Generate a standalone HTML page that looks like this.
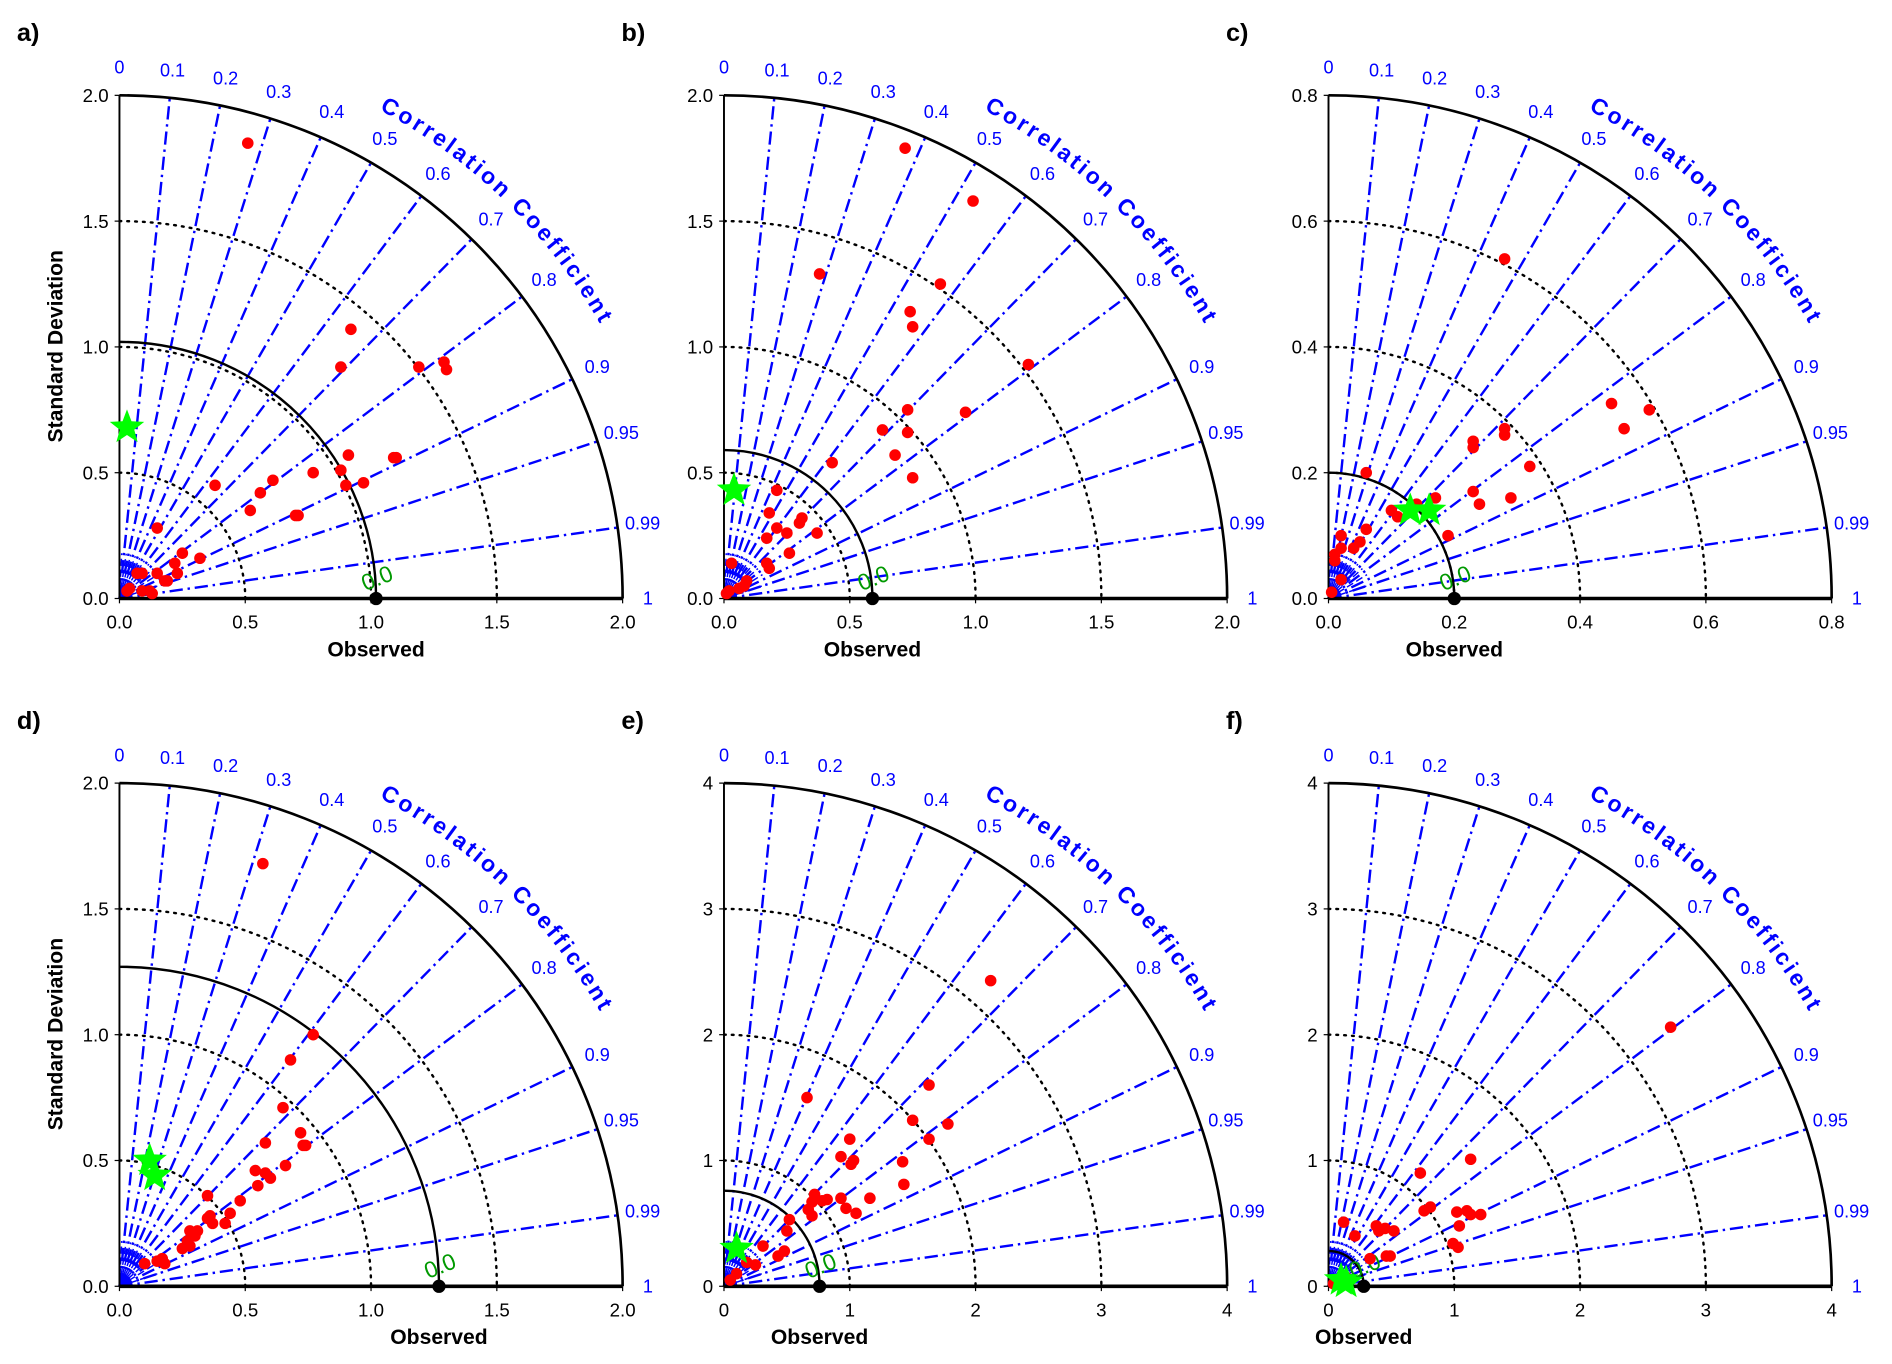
<!DOCTYPE html>
<html><head><meta charset="utf-8">
<style>
html,body{margin:0;padding:0;background:#fff;}
svg{display:block;font-family:"Liberation Sans","DejaVu Sans",sans-serif;}
</style></head>
<body>
<svg id="fig" width="1892" height="1364" viewBox="0 0 1568 1130.4" xmlns="http://www.w3.org/2000/svg"></svg>
<script>
// ---- data ----
const panelLabels = ["a)","b)","c)","d)","e)","f)"];
const panelMax = [2, 2, 0.8, 2, 4, 4];
const panelRef = [1.02, 0.59, 0.2, 1.27, 0.76, 0.28];
const xTicksA = ["0.0","0.5","1.0","1.5","2.0"];
const xTicksC = ["0.0","0.2","0.4","0.6","0.8"];
const xTicksE = ["0","1","2","3","4"];
const corrTicks = [0,0.1,0.2,0.3,0.4,0.5,0.6,0.7,0.8,0.9,0.95,0.99,1];
const starsA = [[0.03,0.68]];
const starsB = [[0.04,0.43]];
const starsC = [[0.13,0.14],[0.16,0.14]];
const starsD = [[0.12,0.50],[0.14,0.44]];
const starsE = [[0.10,0.30]];
const starsF = [[0.10,0.05],[0.14,0.03]];
const ptsA = [[0.51,1.81],[0.92,1.07],[0.88,0.92],[1.19,0.92],[1.29,0.94],[1.30,0.91],[0.91,0.57],[1.09,0.56],[1.10,0.56],[0.88,0.51],[0.97,0.46],[0.90,0.45],[0.77,0.50],[0.61,0.47],[0.56,0.42],[0.38,0.45],[0.52,0.35],[0.70,0.33],[0.71,0.33],[0.15,0.28],[0.25,0.18],[0.32,0.16],[0.22,0.14],[0.23,0.10],[0.15,0.10],[0.07,0.10],[0.09,0.10],[0.18,0.07],[0.19,0.07],[0.04,0.04],[0.03,0.03],[0.09,0.03],[0.13,0.02],[0.12,0.03]];
const ptsB = [[0.72,1.79],[0.99,1.58],[0.38,1.29],[0.86,1.25],[0.74,1.14],[0.75,1.08],[1.21,0.93],[0.96,0.74],[0.73,0.75],[0.73,0.66],[0.63,0.67],[0.68,0.57],[0.75,0.48],[0.43,0.54],[0.21,0.43],[0.18,0.34],[0.31,0.32],[0.30,0.30],[0.21,0.28],[0.25,0.26],[0.37,0.26],[0.17,0.24],[0.26,0.18],[0.17,0.14],[0.18,0.12],[0.03,0.14],[0.09,0.07],[0.08,0.05],[0.06,0.04],[0.02,0.03],[0.01,0.02]];
const ptsC = [[0.28,0.54],[0.45,0.31],[0.51,0.30],[0.47,0.27],[0.28,0.27],[0.28,0.26],[0.23,0.25],[0.23,0.24],[0.32,0.21],[0.06,0.20],[0.23,0.17],[0.29,0.16],[0.24,0.15],[0.10,0.14],[0.11,0.13],[0.14,0.15],[0.17,0.16],[0.19,0.10],[0.06,0.11],[0.05,0.09],[0.04,0.08],[0.02,0.10],[0.02,0.08],[0.01,0.07],[0.01,0.06],[0.02,0.03],[0.005,0.01]];
const ptsD = [[0.57,1.68],[0.77,1.00],[0.68,0.90],[0.65,0.71],[0.72,0.61],[0.74,0.56],[0.73,0.56],[0.58,0.57],[0.66,0.48],[0.54,0.46],[0.58,0.45],[0.60,0.43],[0.55,0.40],[0.48,0.34],[0.35,0.36],[0.44,0.29],[0.36,0.28],[0.35,0.27],[0.37,0.25],[0.42,0.25],[0.31,0.22],[0.30,0.20],[0.28,0.22],[0.27,0.18],[0.28,0.16],[0.25,0.15],[0.17,0.11],[0.15,0.10],[0.18,0.09],[0.10,0.09]];
const ptsE = [[2.12,2.43],[1.63,1.60],[0.66,1.50],[1.50,1.32],[1.78,1.29],[1.63,1.17],[1.00,1.17],[0.93,1.03],[1.03,1.00],[1.01,0.97],[1.42,0.99],[0.72,0.73],[1.43,0.81],[0.70,0.67],[0.78,0.68],[0.82,0.69],[0.93,0.70],[1.16,0.70],[0.97,0.62],[1.05,0.58],[0.70,0.56],[0.67,0.61],[0.52,0.53],[0.50,0.44],[0.31,0.32],[0.48,0.28],[0.43,0.24],[0.25,0.17],[0.18,0.19],[0.10,0.10],[0.05,0.05]];
const ptsF = [[2.72,2.06],[1.13,1.01],[0.73,0.90],[0.81,0.63],[0.76,0.60],[1.02,0.59],[1.10,0.60],[1.21,0.57],[1.13,0.57],[1.04,0.48],[0.99,0.34],[1.03,0.31],[0.38,0.48],[0.45,0.46],[0.52,0.44],[0.40,0.44],[0.12,0.51],[0.21,0.40],[0.49,0.24],[0.33,0.22],[0.46,0.24],[0.14,0.07],[0.08,0.05],[0.04,0.02]];

const panelStars = [starsA,starsB,starsC,starsD,starsE,starsF];
const panelPts = [ptsA,ptsB,ptsC,ptsD,ptsE,ptsF];
const panelXTicks = [xTicksA,xTicksA,xTicksC,xTicksA,xTicksE,xTicksE];

const NS="http://www.w3.org/2000/svg";
const svg=document.getElementById('fig');
function mk(tag,attrs,parent){const e=document.createElementNS(NS,tag);for(const k in attrs)e.setAttribute(k,attrs[k]);(parent||svg).appendChild(e);return e;}
const R=417;
const origins=[[99,496],[600,496],[1101,496],[99,1066],[600,1066],[1101,1066]];

function starPath(cx,cy,ro){const ri=ro*0.42;let d='';for(let i=0;i<10;i++){const a=-Math.PI/2+i*Math.PI/5;const r=i%2?ri:ro;d+=(i?'L':'M')+(cx+r*Math.cos(a)).toFixed(2)+','+(cy+r*Math.sin(a)).toFixed(2);}return d+'Z';}

for(let p=0;p<6;p++){
  const [ox,oy]=origins[p];const M=panelMax[p];const ref=panelRef[p];
  const sx=v=>ox+v/M*R; const sy=v=>oy-v/M*R; const sr=v=>v/M*R;
  const g=mk('g',{});
  
  
  const lab=mk('text',{x:ox-85,y:oy-462,'font-size':21,'font-weight':'bold',fill:'#000'},g);lab.textContent=panelLabels[p];
  
  
  for(let i=1;i<4;i++){const v=M*i/4;const r=sr(v);
    const a=mk('path',{d:`M${ox},${oy-r} A${r},${r} 0 0 1 ${ox+r},${oy}`,fill:'none',stroke:'#000','stroke-width':2,'stroke-dasharray':'1.5,5','stroke-linecap':'round'},g);
    
    }
  for(const c of corrTicks){ if(c===0||c===1) continue; const th=Math.acos(c);
    const l=mk('line',{x1:ox,y1:oy,x2:ox+R*Math.cos(th),y2:oy-R*Math.sin(th),stroke:'#0000ff','stroke-width':2,'stroke-dasharray':'11,4,2,4'},g);
    
    }
  for(let c=0.05;c<1;c+=0.1){const th=Math.acos(c);
    const l=mk('line',{x1:ox,y1:oy,x2:ox+R*0.09*Math.cos(th),y2:oy-R*0.09*Math.sin(th),stroke:'#0000ff','stroke-width':1.2,'stroke-dasharray':'6,3'},g);
    
    }
  const oa=mk('path',{d:`M${ox},${oy-R} A${R},${R} 0 0 1 ${ox+R},${oy}`,fill:'none',stroke:'#000','stroke-width':2.2},g);
  
  
  const rr=sr(ref);
  const ra=mk('path',{d:`M${ox},${oy-rr} A${rr},${rr} 0 0 1 ${ox+rr},${oy}`,fill:'none',stroke:'#000','stroke-width':2},g);
  
  
  const ya=mk('line',{x1:ox,y1:oy,x2:ox,y2:oy-R,stroke:'#000','stroke-width':1.6},g);
  
  
  const xa=mk('line',{x1:ox,y1:oy,x2:ox+R,y2:oy,stroke:'#000','stroke-width':3},g);
  
  
  const tks=panelXTicks[p];
  tks.forEach((t,i)=>{const v=M*i/4;
    const tx=mk('text',{x:sx(v),y:oy+25,'font-size':15.5,'text-anchor':'middle',fill:'#000'},g);tx.textContent=t;
    
    
    const ty=mk('text',{x:ox-9,y:sy(v)+5.5,'font-size':15.5,'text-anchor':'end',fill:'#000'},g);ty.textContent=t;
    
    
    mk('line',{x1:ox-4,y1:sy(v),x2:ox,y2:sy(v),stroke:'#000','stroke-width':1},g);
    mk('line',{x1:sx(v),y1:oy,x2:sx(v),y2:oy+4,stroke:'#000','stroke-width':1},g);
  });
  for(const c of corrTicks){const th=Math.acos(c);const rl=R*1.055;
    const t=mk('text',{x:ox+rl*Math.cos(th)+(c>=0.95?-2:0),y:oy-rl*Math.sin(th)+5,'font-size':15,'text-anchor':'middle',fill:'#0000ff'},g);t.textContent=String(c);
    
    }
  const rc=R*1.1;const a1=62*Math.PI/180,a2=27*Math.PI/180;
  mk('path',{id:'cp'+p,d:`M${ox+rc*Math.cos(a1)},${oy-rc*Math.sin(a1)} A${rc},${rc} 0 0 1 ${ox+rc*Math.cos(a2)},${oy-rc*Math.sin(a2)}`,fill:'none',stroke:'none'},g);
  const ct=mk('text',{'font-size':19,'font-weight':'bold',fill:'#0000ff'},g);
  
  
  const tp=mk('textPath',{href:'#cp'+p,textLength:258,lengthAdjust:'spacing'},ct);tp.textContent='Correlation Coefficient';
  const ot=mk('text',{x:sx(ref),y:oy+48,'font-size':17.5,'font-weight':'bold','text-anchor':'middle',fill:'#000'},g);ot.textContent='Observed';
  
  
  if(p===0||p===3){const yt=mk('text',{x:0,y:0,'font-size':17.5,'font-weight':'bold','text-anchor':'middle',fill:'#000',transform:`translate(${ox-47},${oy-209}) rotate(-90)`},g);yt.textContent='Standard Deviation';
    
    }
  const gl=mk('text',{x:0,y:0,'font-size':19,fill:'#009900',transform:`translate(${sx(ref)-9},${oy-6}) rotate(-22)`},g);gl.textContent='0.0';
  
  
  for(const [x,y] of panelPts[p]){const c=mk('circle',{cx:sx(x),cy:sy(y),r:4.8,fill:'#ff0000'},g);
    
    }
  for(const [x,y] of panelStars[p]){const s=mk('path',{d:starPath(sx(x),sy(y),15),fill:'#00ff00'},g);
    
    }
  const od=mk('circle',{cx:sx(ref),cy:oy,r:5.5,fill:'#000'},g);
  
  
}
</script>
</body></html>
